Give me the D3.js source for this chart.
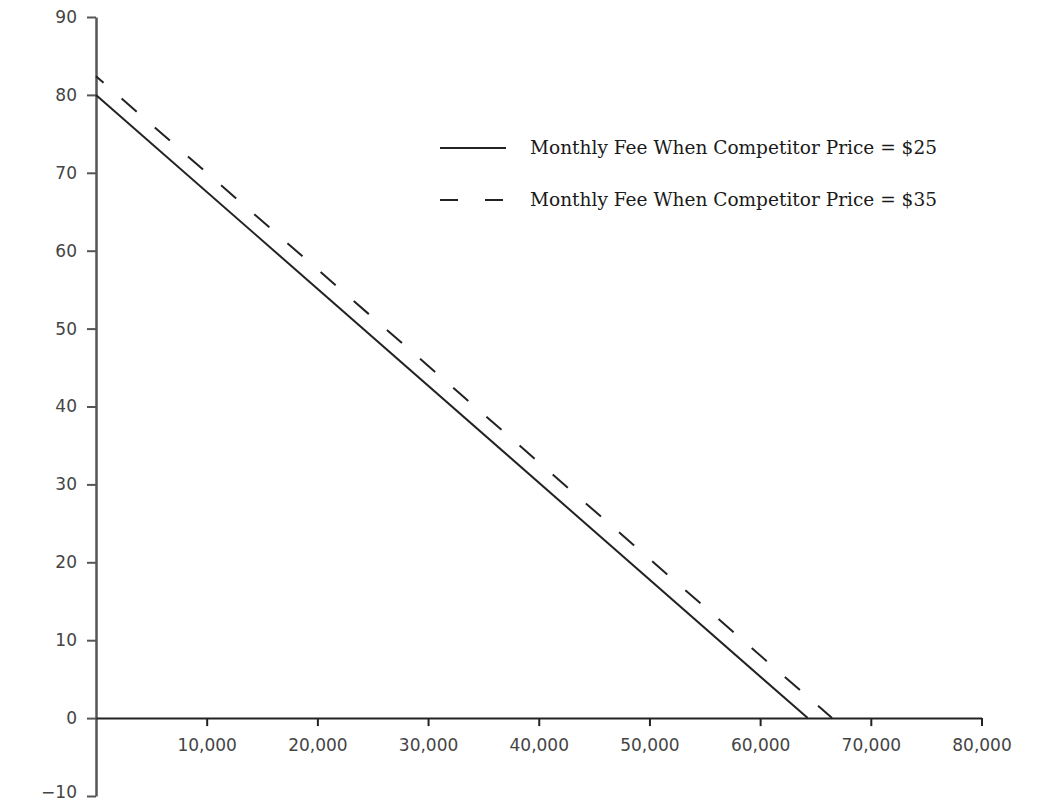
<!DOCTYPE html>
<html>
<head>
<meta charset="utf-8">
<script src="https://cdn.jsdelivr.net/npm/d3@7"></script>
<style>
  body { margin: 0; background: #fff; }
  .axis text { font-family: "DejaVu Sans", sans-serif; font-size: 17px; fill: #444; }
  .legend text { font-family: "DejaVu Serif", serif; font-size: 18px; fill: #1a1a1a; }
</style>
</head>
<body>
<svg class="chart"></svg>
<script>
// values
var xTicks = [10000, 20000, 30000, 40000, 50000, 60000, 70000, 80000];
var yTicks = [-10, 0, 10, 20, 30, 40, 50, 60, 70, 80, 90];

var units25 = [0, 64300];
var fee25 = [80, 0];
var units35 = [0, 66500];
var fee35 = [82.4, 0];

var seriesLabels = ["Monthly Fee When Competitor Price = $25",
                    "Monthly Fee When Competitor Price = $35"];

var width = 1048, height = 802;

var x = d3.scaleLinear().domain([0, 80000]).range([96, 981.5]);
var y = d3.scaleLinear().domain([-10, 90]).range([796, 17]);

var chart = d3.select(".chart")
    .attr("width", width)
    .attr("height", height);

var xAxis = d3.axisBottom(x)
    .tickValues(xTicks)
    .tickFormat(d3.format(","))
    .tickSizeInner(8)
    .tickSizeOuter(0)
    .tickPadding(13);

var yAxis = d3.axisLeft(y)
    .tickValues(yTicks)
    .tickFormat(d3.format("d"))
    .tickSizeInner(9)
    .tickSizeOuter(0)
    .tickPadding(10);

var gy = chart.append("g")
    .attr("class", "y axis")
    .attr("transform", "translate(" + x(0) + ",0)")
    .call(yAxis);
gy.selectAll("path, line").attr("stroke", "#555").attr("stroke-width", 2);
gy.select(".domain").attr("stroke-width", 2.5);
// keep the bottom label inside the page
gy.selectAll(".tick text").filter(d => d === -10).attr("dy", "0.1em");

var gx = chart.append("g")
    .attr("class", "x axis")
    .attr("transform", "translate(0," + y(0) + ")")
    .call(xAxis);
gx.selectAll("path, line").attr("stroke", "#222").attr("stroke-width", 2);

var line = d3.line()
  .x(d => x(d[0]))
  .y(d => y(d[1]));

chart.append("path")
    .datum(d3.zip(units25, fee25))
    .attr("fill", "none")
    .attr("stroke", "#222")
    .attr("stroke-width", 2)
    .attr("d", line);

chart.append("path")
    .datum(d3.zip(units35, fee35))
    .attr("fill", "none")
    .attr("stroke", "#222")
    .attr("stroke-width", 2)
    .attr("stroke-dasharray", "20,24")
    .attr("stroke-dashoffset", 10)
    .attr("d", line);

// legend
var dashes = [null, "18,27"];
var legend = chart.append("g").attr("class", "legend");

var rows = legend.selectAll("g")
  .data(seriesLabels)
  .enter().append("g")
    .attr("transform", (d, i) => "translate(440," + (148 + i * 52) + ")");

rows.append("line")
    .attr("x1", 0)
    .attr("x2", 66)
    .attr("stroke", "#222")
    .attr("stroke-width", 2)
    .attr("stroke-dasharray", (d, i) => dashes[i]);

rows.append("text")
    .attr("x", 90)
    .attr("dy", "0.35em")
    .attr("textLength", 407)
    .attr("lengthAdjust", "spacingAndGlyphs")
    .text(d => d);
</script>
</body>
</html>
